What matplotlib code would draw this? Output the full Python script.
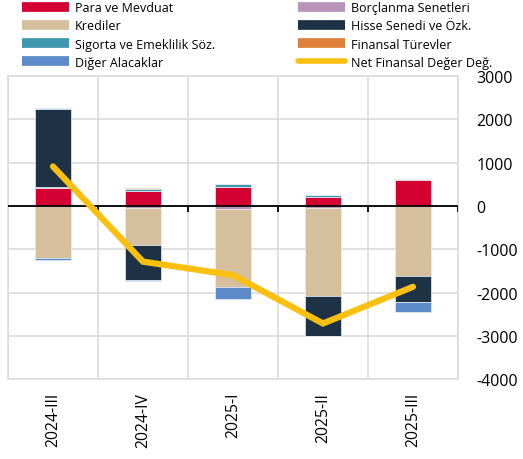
import numpy as np
import matplotlib.pyplot as plt
from matplotlib.lines import Line2D

plt.rcParams["font.family"] = ["Open Sans", "DejaVu Sans"]
plt.rcParams["axes.unicode_minus"] = False

# -------------------------------
# DATA
# -------------------------------
periods = ["2024-III", "2024-IV", "2025-I", "2025-II", "2025-III"]

para = [410, 355, 445, 215, 600]
borclanma = [35, -55, -75, -55, 15]
krediler = [-1210, -850, -1800, -2025, -1610]
hisse = [1790, -810, 0, -915, -615]
sigorta = [15, 30, 55, 30, 5]
turevler = [5, 25, 5, 5, 5]
diger = [-40, -10, -270, -15, -230]
net = [910, -1285, -1595, -2710, -1865]

series = [
    ("Para ve Mevduat", para, "#d50032"),
    ("Borçlanma Senetleri", borclanma, "#b794b8"),
    ("Krediler", krediler, "#d6bf9c"),
    ("Hisse Senedi ve Özk.", hisse, "#1e3246"),
    ("Sigorta ve Emeklilik Söz.", sigorta, "#3f98ad"),
    ("Finansal Türevler", turevler, "#de7f3a"),
    ("Diğer Alacaklar", diger, "#5d8ac8"),
]
net_color = "#f9c00f"

# -------------------------------
# DRAW
# -------------------------------
fig = plt.figure(figsize=(5.23, 4.6), dpi=100)
ax = fig.add_axes([0.0153, 0.173, 0.8604, 0.660])

x = np.arange(len(periods))
pos_base = np.zeros(len(periods))
neg_base = np.zeros(len(periods))
for name, vals, color in series:
    vals = np.array(vals, dtype=float)
    bottoms = np.where(vals >= 0, pos_base, neg_base)
    ax.bar(x, vals, width=0.4, bottom=bottoms, color=color,
           edgecolor="#e8eef4", linewidth=0.5, zorder=3)
    pos_base += np.where(vals >= 0, vals, 0)
    neg_base += np.where(vals < 0, vals, 0)

ax.plot(x, net, color=net_color, linewidth=4.5, solid_capstyle="round",
        solid_joinstyle="miter", zorder=5)

# zero line with small ticks at category boundaries
ax.axhline(0, color="black", linewidth=1.3, zorder=4)
bounds = np.arange(len(periods) + 1) - 0.5
ax.vlines(bounds[1:], -150, 0, color="black", linewidth=1.3, zorder=4)

ax.set_xlim(-0.5, len(periods) - 0.5)
ax.set_ylim(-4000, 3000)
ax.set_yticks(np.arange(-4000, 3001, 1000))
ax.yaxis.tick_right()
ax.tick_params(axis="y", length=0, pad=13.5, labelsize=11.5)
ax.set_xticks(x)
ax.set_xticklabels(periods, rotation=90, fontsize=11.3)
ax.tick_params(axis="x", length=0, pad=9)
ax.set_xticks(bounds, minor=True)
ax.tick_params(axis="x", which="minor", length=0)

ax.grid(axis="y", color="#dcdcdc", linewidth=1.2, zorder=0)
ax.grid(axis="x", which="minor", color="#dcdcdc", linewidth=1.2, zorder=0)
ax.grid(axis="x", which="major", visible=False)
for s in ax.spines.values():
    s.set_color("#dcdcdc")
    s.set_linewidth(1.2)

# -------------------------------
# LEGEND
# -------------------------------
handles = {name: Line2D([], [], color=c, linewidth=7, solid_capstyle="butt")
           for name, _, c in series}
handles["Net Finansal Değer Değ."] = Line2D([], [], color=net_color, linewidth=4,
                                            solid_capstyle="round")
order = ["Para ve Mevduat", "Krediler", "Sigorta ve Emeklilik Söz.", "Diğer Alacaklar",
         "Borçlanma Senetleri", "Hisse Senedi ve Özk.", "Finansal Türevler",
         "Net Finansal Değer Değ."]
fig.legend([handles[k] for k in order], order, ncol=2, loc="upper left",
           bbox_to_anchor=(0.02, 1.02), frameon=False, fontsize=9,
           handlelength=3.8, handletextpad=0.48, columnspacing=6.6,
           labelspacing=0.42)

fig.savefig("out.png", dpi=100)
